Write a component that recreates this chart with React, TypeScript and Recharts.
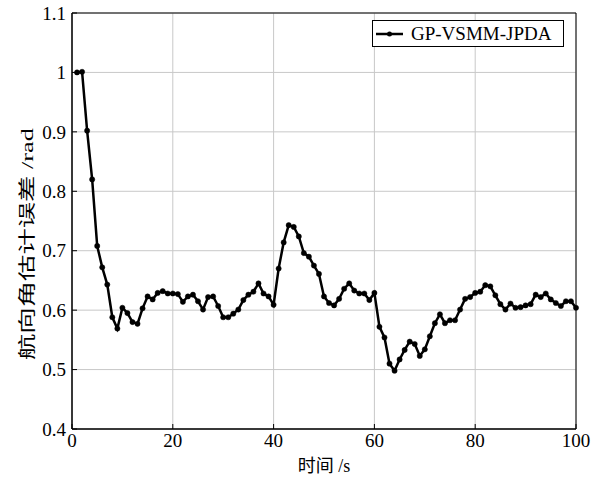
import { LineChart, Line, XAxis, YAxis, CartesianGrid, ReferenceArea } from 'recharts';

// ── Data ──────────────────────────────────────────────────────────────────────
const TIME = [
  1, 2, 3, 4, 5, 6, 7, 8, 9, 10, 11, 12, 13, 14, 15, 16, 17, 18, 19, 20,
  21, 22, 23, 24, 25, 26, 27, 28, 29, 30, 31, 32, 33, 34, 35, 36, 37, 38, 39, 40,
  41, 42, 43, 44, 45, 46, 47, 48, 49, 50, 51, 52, 53, 54, 55, 56, 57, 58, 59, 60,
  61, 62, 63, 64, 65, 66, 67, 68, 69, 70, 71, 72, 73, 74, 75, 76, 77, 78, 79, 80,
  81, 82, 83, 84, 85, 86, 87, 88, 89, 90, 91, 92, 93, 94, 95, 96, 97, 98, 99, 100,
];

const HEADING_ERR = [
  1.0, 1.001, 0.902, 0.82, 0.708, 0.672, 0.643, 0.588, 0.569, 0.604,
  0.595, 0.58, 0.577, 0.603, 0.623, 0.618, 0.629, 0.632, 0.628, 0.628,
  0.627, 0.614, 0.623, 0.626, 0.615, 0.601, 0.622, 0.623, 0.607, 0.588,
  0.588, 0.594, 0.601, 0.617, 0.626, 0.631, 0.645, 0.628, 0.623, 0.609,
  0.67, 0.714, 0.743, 0.74, 0.724, 0.696, 0.69, 0.675, 0.661, 0.623,
  0.612, 0.608, 0.619, 0.636, 0.645, 0.633, 0.628, 0.628, 0.617, 0.629,
  0.572, 0.554, 0.51, 0.498, 0.517, 0.533, 0.547, 0.543, 0.523, 0.534,
  0.556, 0.578, 0.593, 0.578, 0.583, 0.583, 0.601, 0.619, 0.622, 0.629,
  0.631, 0.642, 0.64, 0.625, 0.61, 0.601, 0.611, 0.604, 0.605, 0.608,
  0.61, 0.626, 0.622, 0.628, 0.618, 0.612, 0.607, 0.615, 0.615, 0.604,
];

const X_TICKS = [0, 20, 40, 60, 80, 100];
const Y_TICKS = [0.4, 0.5, 0.6, 0.7, 0.8, 0.9, 1.0, 1.1];

const SERIES_NAME = 'GP-VSMM-JPDA';
const X_LABEL = '时间 /s';
const Y_LABEL = '航向角估计误差 /rad';

const data = TIME.map((t, i) => ({ t, err: HEADING_ERR[i] }));

const FONT = '"Liberation Serif", "Noto Sans CJK SC", serif';
const tickStyle = { fontSize: 19, fill: '#000', fontFamily: FONT };

const fmtY = (v: number) => (v === 1 ? '1' : v.toFixed(1));

export default function App() {
  return (
    <div style={{ position: 'relative', width: 593, height: 478, background: '#fff' }}>
      <style>{'body{margin:0}'}</style>
      <LineChart
        width={593}
        height={478}
        data={data}
        margin={{ top: 13, right: 17, left: 0, bottom: 0 }}
      >
        <CartesianGrid stroke="#c8c8c8" strokeWidth={1} />

        <XAxis
          dataKey="t"
          type="number"
          domain={[0, 100]}
          ticks={X_TICKS}
          height={49}
          stroke="#000"
          tickSize={-5}
          tickMargin={10}
          tick={tickStyle}
          label={{
            content: () => (
              <text
                x={324}
                y={472}
                textAnchor="middle"
                fontSize={18}
                fontFamily={FONT}
                fill="#000"
              >
                {X_LABEL}
              </text>
            ),
          }}
        />
        {/* top frame axis (ticks only) */}
        <XAxis
          xAxisId="top"
          orientation="top"
          dataKey="t"
          type="number"
          domain={[0, 100]}
          ticks={X_TICKS}
          height={0}
          stroke="#000"
          tickSize={-5}
          tick={false}
        />

        <YAxis
          type="number"
          domain={[0.4, 1.1]}
          ticks={Y_TICKS}
          width={72}
          stroke="#000"
          tickSize={-5}
          tickMargin={11}
          tick={tickStyle}
          tickFormatter={fmtY}
          label={{
            content: () => (
              <text
                x={27}
                y={244}
                transform="rotate(-90 27 244)"
                textAnchor="middle"
                dominantBaseline="central"
                fontSize={17}
                fontFamily={FONT}
                fill="#000"
                textLength={232}
                lengthAdjust="spacingAndGlyphs"
              >
                {Y_LABEL}
              </text>
            ),
          }}
        />
        {/* right frame axis (ticks only) */}
        <YAxis
          yAxisId="right"
          orientation="right"
          type="number"
          domain={[0.4, 1.1]}
          ticks={Y_TICKS}
          width={0}
          stroke="#000"
          tickSize={-5}
          tick={false}
        />

        {/* black box around the plot area */}
        <ReferenceArea
          x1={0}
          x2={100}
          y1={0.4}
          y2={1.1}
          fill="none"
          stroke="#000"
          strokeWidth={1}
          fillOpacity={0}
        />

        {/* invisible series bound to the frame axes so they render */}
        <Line
          xAxisId="top"
          yAxisId="right"
          dataKey="err"
          stroke="none"
          dot={false}
          activeDot={false}
          legendType="none"
          isAnimationActive={false}
        />

        <Line
          type="linear"
          dataKey="err"
          name={SERIES_NAME}
          stroke="#000"
          strokeWidth={2.5}
          dot={{ r: 2.6, fill: '#000', stroke: '#000', strokeWidth: 0.5 }}
          isAnimationActive={false}
        />
      </LineChart>

      {/* Legend box */}
      <div
        style={{
          position: 'absolute',
          left: 372,
          top: 20,
          width: 192,
          height: 27,
          border: '1px solid #000',
          background: '#fff',
          boxSizing: 'border-box',
          display: 'flex',
          alignItems: 'center',
          fontFamily: FONT,
          fontSize: 19,
          color: '#000',
        }}
      >
        <svg width={38} height={10} style={{ flexShrink: 0 }}>
          <line x1={3} y1={5} x2={30} y2={5} stroke="#000" strokeWidth={2.5} />
          <circle cx={16.5} cy={5} r={2.5} fill="#000" />
        </svg>
        <span style={{ whiteSpace: 'nowrap', lineHeight: '25px' }}>{SERIES_NAME}</span>
      </div>
    </div>
  );
}
